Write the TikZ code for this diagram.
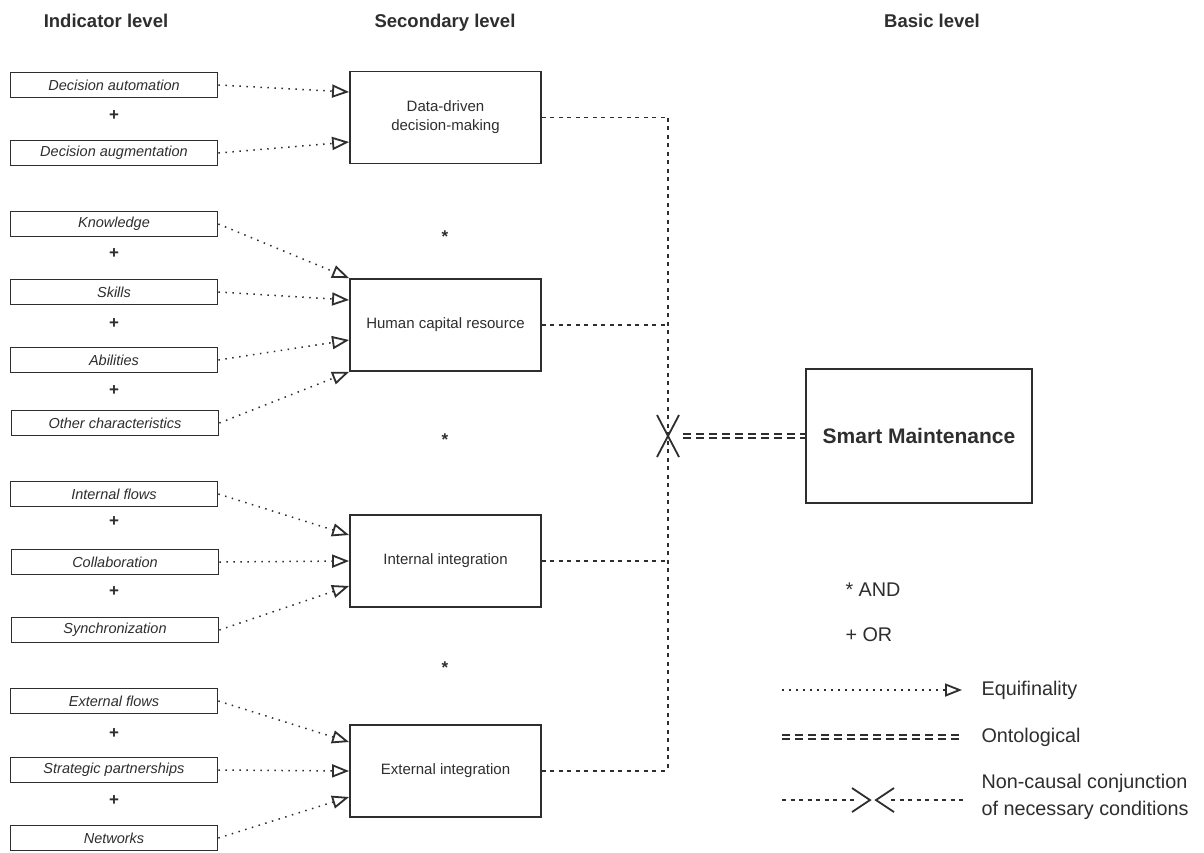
\documentclass[tikz,border=0pt]{standalone}
\usepackage{fontspec}
\setmainfont{Liberation Sans}
\usetikzlibrary{arrows.meta}

\colorlet{ink}{black!82}
\tikzset{
  indicator/.style={draw=ink, line width=1.8pt, minimum width=207pt, minimum height=25pt,
    inner sep=0pt, text=ink, font=\fontsize{14.5}{16}\selectfont\itshape},
  secondary/.style={draw=ink, line width=1.8pt, minimum width=191pt, minimum height=92pt,
    inner sep=0pt, align=center, text=ink, font=\fontsize{15}{19}\selectfont},
  header/.style={anchor=base, text=ink, font=\fontsize{18.5}{20}\selectfont\bfseries},
  junctor/.style={text=ink, font=\fontsize{17}{18}\selectfont\bfseries},
  legendtext/.style={anchor=west, align=left, text=ink, font=\fontsize{19.8}{27}\selectfont},
  equi/.style={draw=ink, line width=1.5pt, dash pattern=on 1.5pt off 5.5pt,
    -{Triangle[open, length=17pt, width=13pt, line width=1.8pt]}},
  necc/.style={draw=ink, line width=1.8pt, dash pattern=on 4pt off 4.5pt},
  onto/.style={draw=ink, line width=1.6pt, double=white, double distance=2.8pt,
    dash pattern=on 8pt off 5pt},
  cross/.style={draw=ink, line width=1.8pt}
}

\begin{document}
\begin{tikzpicture}[x=1pt, y=-1pt]
\useasboundingbox[fill=white] (0,0) rectangle (1204,852);

% level headers
\node[header] (hind) at (106,27) {Indicator level};
\node[header] (hsec) at (445,27) {Secondary level};
\node[header] (hbas) at (932,27) {Basic level};

% indicator level
\node[indicator] (auto) at (114,85) {Decision automation};
\node[junctor] at (114,116) {+};
\node[indicator] (augm) at (114,153) {Decision augmentation};

\node[indicator] (know) at (114,224) {Knowledge};
\node[junctor] at (114,254) {+};
\node[indicator] (skil) at (114,292) {Skills};
\node[junctor] at (114,324) {+};
\node[indicator] (abil) at (114,360) {Abilities};
\node[junctor] at (114,391) {+};
\node[indicator] (othe) at (115,423) {Other characteristics};

\node[indicator] (intf) at (114,494) {Internal flows};
\node[junctor] at (114,522) {+};
\node[indicator] (coll) at (115,562) {Collaboration};
\node[junctor] at (114,592) {+};
\node[indicator] (sync) at (115,630) {Synchronization};

\node[indicator] (extf) at (114,701) {External flows};
\node[junctor] at (114,734) {+};
\node[indicator] (stra) at (114,770) {Strategic partnerships};
\node[junctor] at (114,801) {+};
\node[indicator] (netw) at (114,838) {Networks};

% secondary level
\node[secondary] (dd) at (445.5,117.5) {Data-driven\\decision-making};
\node[secondary] (hc) at (445.5,325) {Human capital resource};
\node[secondary] (ii) at (445.5,561) {Internal integration};
\node[secondary] (ei) at (445.5,771) {External integration};

\node[junctor] at (445,237) {*};
\node[junctor] at (445,440) {*};
\node[junctor] at (445,668) {*};

% basic level
\node[
      draw=ink,
      line width=1.8pt,
      minimum width=226pt,
      minimum height=134pt,
      text=ink,
      font=\fontsize{21}{24}\selectfont\bfseries
] (sm) at (919,436) {Smart Maintenance};

% equifinality
\draw[equi] (auto.east) -- ([yshift=25.5]dd.west);
\draw[equi] (augm.east) -- ([yshift=-24.5]dd.west);
\draw[equi] (know.east) -- (hc.north west);
\draw[equi] (skil.east) -- ([yshift=25]hc.west);
\draw[equi] (abil.east) -- ([yshift=-15]hc.west);
\draw[equi] (othe.east) -- (hc.south west);
\draw[equi] (intf.east) -- ([yshift=26]ii.west);
\draw[equi] (coll.east) -- (ii.west);
\draw[equi] (sync.east) -- ([yshift=-25]ii.west);
\draw[equi] (extf.east) -- ([yshift=29]ei.west);
\draw[equi] (stra.east) -- (ei.west);
\draw[equi] (netw.east) -- ([yshift=-26]ei.west);

% non-causal conjunction
\coordinate (jn) at (668,436);
\draw[necc] (dd.east) -- (dd.east -| jn);
\draw[necc] (hc.east) -- (hc.east -| jn);
\draw[necc] (ii.east) -- (ii.east -| jn);
\draw[necc] (ei.east) -- (ei.east -| jn);
\draw[necc] (dd.east -| jn) -- (ei.east -| jn);
\draw[cross] ([shift={(-11,-21)}]jn) -- ([shift={(11,21)}]jn);
\draw[cross] ([shift={(11,-21)}]jn) -- ([shift={(-11,21)}]jn);
\draw[onto] ([xshift=15]jn) -- (sm.west);

% legend
\node[legendtext] (land) at (842,590) {* AND};
\node[legendtext] (lor) at (842,635) {+ OR};
\node[legendtext] (lequ) at (978,690) {Equifinality};
\node[legendtext] (lont) at (978,737) {Ontological};
\node[legendtext] (lnec) at (978,797) {Non-causal conjunction\\of necessary conditions};
\coordinate (equa) at (782,690);
\coordinate (onta) at (782,737);
\coordinate (neca) at (782,800);
\coordinate (necx) at (873,800);
\draw[equi] (equa) -- ([xshift=-16]lequ.west);
\draw[onto] (onta) -- ([xshift=-16]lont.west);
\draw[necc] (neca) -- ([xshift=-18]necx);
\draw[necc] ([xshift=18]necx) -- ([xshift=-12]necx -| lnec.west);
\draw[cross] ([shift={(-21,-12)}]necx) -- ([shift={(-3,0)}]necx) -- ([shift={(-21,12)}]necx);
\draw[cross] ([shift={(21,-12)}]necx) -- ([shift={(3,0)}]necx) -- ([shift={(21,12)}]necx);
\end{tikzpicture}
\end{document}
